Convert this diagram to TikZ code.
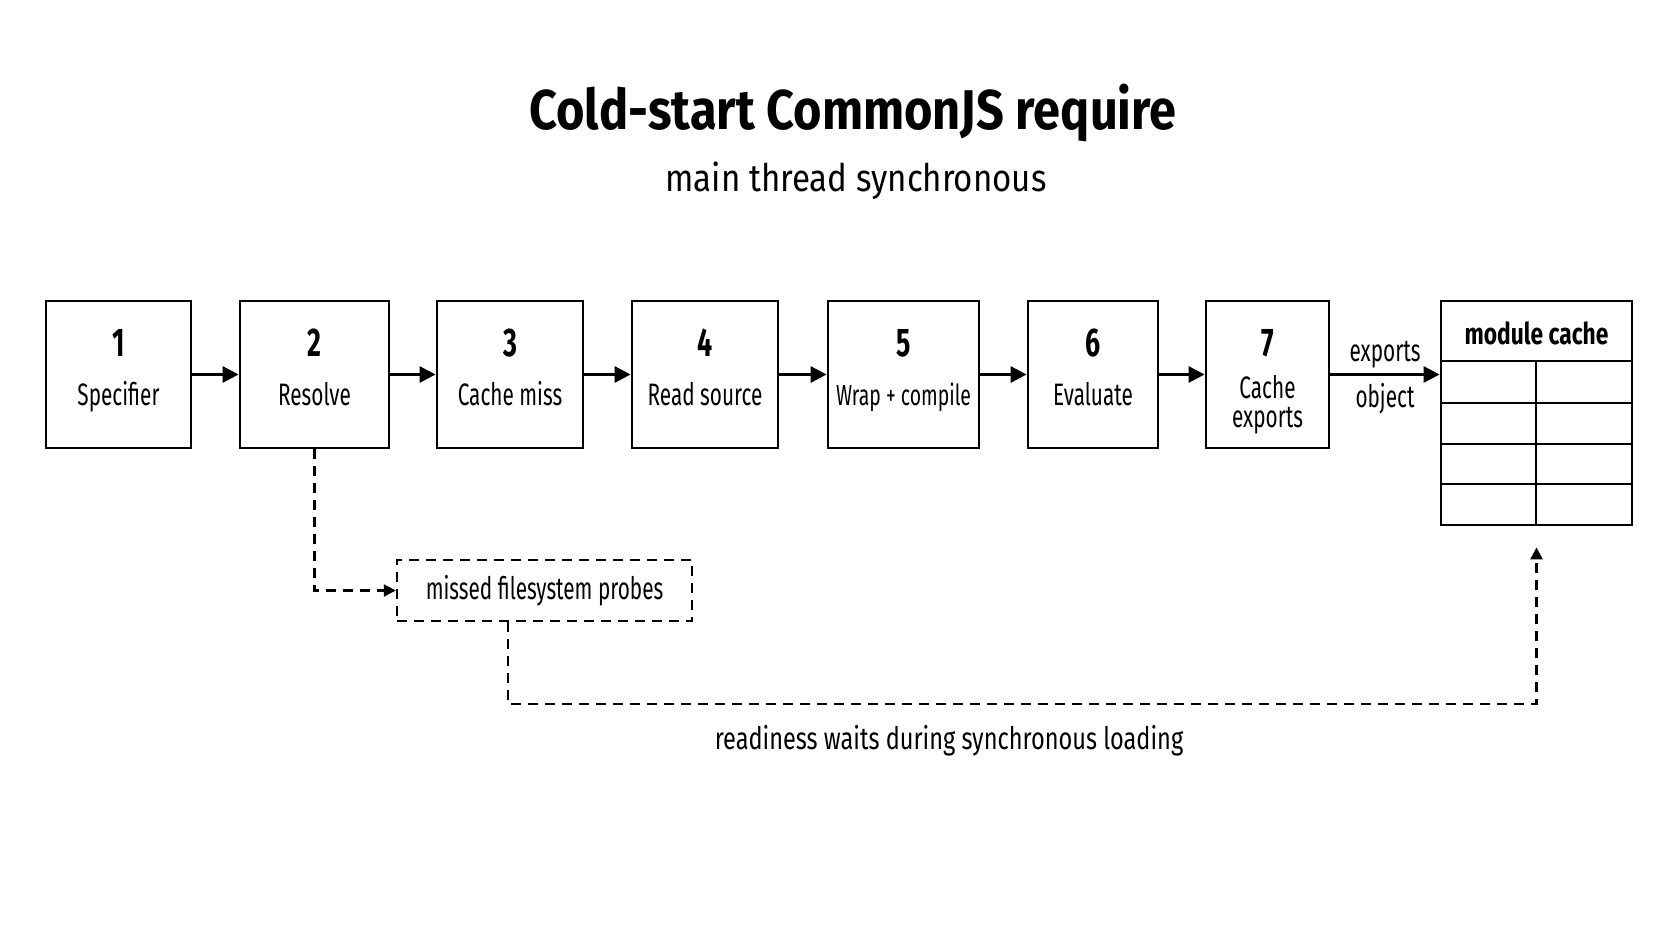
\documentclass[tikz,border=0pt]{standalone}
\usepackage{fontspec}
\setmainfont{Fira Sans}[FakeStretch=0.67]
\newfontfamily\widefont{Fira Sans}[FakeStretch=0.76]
\newfontfamily\titlefont{Fira Sans}[FakeStretch=0.87]
\usetikzlibrary{arrows.meta, positioning, calc}

\begin{document}
\begin{tikzpicture}[
    x=1pt, y=-1pt,
    font=\fontsize{31}{29}\selectfont,
    stepbox/.style={
        rectangle, draw=black, line width=2.8pt, fill=white,
        minimum height=147pt, inner sep=0pt
    },
    num/.style={anchor=base, font=\fontsize{40}{44}\selectfont\bfseries},
    steplabel/.style={anchor=base, align=center},
    probebox/.style={
        rectangle, draw=black, line width=2.4pt, dash pattern=on 10pt off 7pt,
        minimum width=295pt, minimum height=61pt, inner sep=0pt
    },
    arrow/.style={
        -{Triangle[length=16pt, width=16pt]}, line width=2.8pt, draw=black
    },
    dasharrow/.style={
        -{Triangle[length=12pt, width=12pt]}, line width=2.4pt, draw=black,
        dash pattern=on 10pt off 7pt
    }
]
    \useasboundingbox (0,0) rectangle (1672,941);

    % --- TITLE ---
    \node [font=\fontsize{56}{60}\titlefont\bfseries] (title) at (853,113) {Cold-start CommonJS require};
    \node [font=\fontsize{38}{40}\titlefont] (subtitle) at (856,181) {main thread synchronous};

    % --- STEPS ---
    \node [stepbox, minimum width=145pt] (s1) at (118.5,374.5) {};
    \node [stepbox, minimum width=149pt] (s2) at (314.5,374.5) {};
    \node [stepbox, minimum width=146pt] (s3) at (510,374.5) {};
    \node [stepbox, minimum width=146pt] (s4) at (705,374.5) {};
    \node [stepbox, minimum width=151pt] (s5) at (903.5,374.5) {};
    \node [stepbox, minimum width=130pt] (s6) at (1093,374.5) {};
    \node [stepbox, minimum width=123pt] (s7) at (1267.5,374.5) {};

    \node [num] (n1) at ($(s1.center)+(0,-18.5)$) {1};
    \node [num] (n2) at ($(s2.center)+(0,-18.5)$) {2};
    \node [num] (n3) at ($(s3.center)+(0,-18.5)$) {3};
    \node [num] (n4) at ($(s4.center)+(0,-18.5)$) {4};
    \node [num] (n5) at ($(s5.center)+(0,-18.5)$) {5};
    \node [num] (n6) at ($(s6.center)+(0,-18.5)$) {6};
    \node [num] (n7) at ($(s7.center)+(0,-18.5)$) {7};

    \node [steplabel] (l1) at ($(s1.center)+(0,30.5)$) {Specifier};
    \node [steplabel] (l2) at ($(s2.center)+(0,30.5)$) {Resolve};
    \node [steplabel] (l3) at ($(s3.center)+(0,30.5)$) {Cache miss};
    \node [steplabel] (l4) at ($(s4.center)+(0,30.5)$) {Read source};
    \node [steplabel, font=\fontsize{29}{29}\selectfont] (l5) at ($(s5.center)+(0,30.5)$) {Wrap + compile};
    \node [steplabel] (l6) at ($(s6.center)+(0,30.5)$) {Evaluate};
    \node [steplabel] (l7) at ($(s7.center)+(0,52.5)$) {Cache\\exports};

    % --- MODULE CACHE TABLE ---
    \node [stepbox, minimum width=191pt, minimum height=224pt] (cache) at (1536.5,413) {};
    \node [font=\fontsize{30}{32}\widefont\bfseries] (cachehead) at (1536.5,333) {module cache};
    \draw [line width=2.8pt] (1441,361) -- (1632,361);
    \draw [line width=2pt] (1441,403) -- (1632,403);
    \draw [line width=2pt] (1441,444) -- (1632,444);
    \draw [line width=2pt] (1441,484) -- (1632,484);
    \draw [line width=2pt] (1536,361) -- (1536,525);

    % --- PROBES ---
    \node [probebox] (probes) at (544.5,590.5) {missed filesystem probes};
    \coordinate (waitline) at (949,704);
    \node [below=18pt of waitline, font=\fontsize{31}{33}\widefont] (waitlabel) {readiness waits during synchronous loading};

    % --- CONNECTING ARROWS ---
    \draw [arrow] (s1) -- (s2);
    \draw [arrow] (s2) -- (s3);
    \draw [arrow] (s3) -- (s4);
    \draw [arrow] (s4) -- (s5);
    \draw [arrow] (s5) -- (s6);
    \draw [arrow] (s6) -- (s7);
    \draw [arrow] (s7.east) -- (s7.east -| cache.west)
        node[midway, above=2pt] {exports}
        node[midway, below=4pt] {object};

    \draw [dasharrow] (s2.south) |- (probes.west);
    \draw [dasharrow, shorten >=21pt] (probes.south -| 508,0) |- (waitline) -| (cache.south);

\end{tikzpicture}
\end{document}
